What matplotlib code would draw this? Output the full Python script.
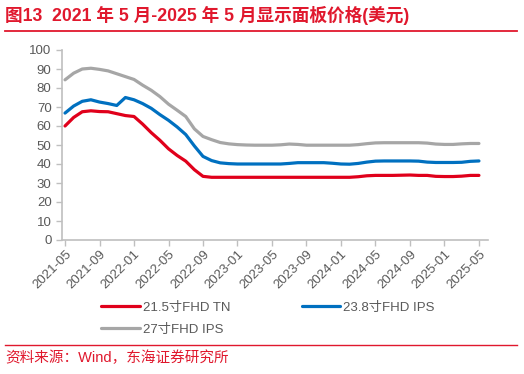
import matplotlib
matplotlib.use("Agg")
import matplotlib.pyplot as plt

# ---- data ----
months = [f"{y}-{m:02d}" for y in range(2021, 2026) for m in range(1, 13)]
months = months[months.index("2021-05"):months.index("2025-05") + 1]

tn_215 = [60, 64.5, 67.5, 68, 67.6, 67.5, 66.5, 65.5, 65, 61,
          56.5, 52.5, 48, 44.5, 41.5, 37, 33.5, 33, 33, 33,
          33, 33, 33, 33, 33, 33, 33, 33, 33, 33,
          33, 33, 33, 33, 33.3, 33.8, 34, 34, 34, 34.1,
          34.2, 34, 34, 33.5, 33.4, 33.4, 33.6, 34, 34]
ips_238 = [66.8, 70.5, 73, 73.8, 72.6, 71.8, 70.8, 75, 73.8, 71.8,
           69.3, 66, 63, 59.5, 55.5, 49.5, 44, 41.8, 40.6, 40.2,
           40, 40, 40, 40, 40, 40, 40.3, 40.7, 40.7, 40.7,
           40.7, 40.4, 40, 39.9, 40.3, 41, 41.5, 41.6, 41.6, 41.6,
           41.6, 41.5, 41, 40.8, 40.8, 40.8, 40.9, 41.4, 41.6]
ips_27 = [84.3, 87.8, 90, 90.4, 89.8, 89, 87.5, 86, 84.5, 81.5,
          78.8, 75.5, 71.5, 68.3, 65, 58.5, 54.5, 52.8, 51.3, 50.6,
          50.2, 50, 49.9, 49.9, 49.9, 50.1, 50.5, 50.3, 49.9, 49.9,
          49.9, 49.9, 49.9, 49.9, 50.2, 50.7, 51.1, 51.2, 51.2, 51.2,
          51.2, 51.2, 51, 50.5, 50.3, 50.3, 50.6, 50.8, 50.8]

series_names = ["21.5寸FHD TN", "23.8寸FHD IPS", "27寸FHD IPS"]
series_colors = ["#E0001B", "#0070C0", "#A6A6A6"]
yticks = [0, 10, 20, 30, 40, 50, 60, 70, 80, 90, 100]

title = "图13  2021 年 5 月-2025 年 5 月显示面板价格(美元)"
source = "资料来源：Wind，东海证券研究所"

# ---- style ----
plt.rcParams['font.family'] = ['Liberation Sans', 'Noto Sans CJK SC', 'DejaVu Sans']
red = "#E0182D"
axis_gray = "#BFBFBF"
text_gray = "#595959"

fig = plt.figure(figsize=(5.24, 3.74), dpi=100)
ax = fig.add_axes([62 / 524, 1 - 240 / 374, (488 - 62) / 524, 190 / 374])

x = list(range(len(months)))
lines = []
for vals, name, col in zip([tn_215, ips_238, ips_27], series_names, series_colors):
    ln, = ax.plot(x, vals, color=col, lw=2.3, label=name, solid_capstyle='round')
    lines.append(ln)

ax.set_ylim(0, 100)
ax.set_xlim(-0.35, 49.05)
ax.set_yticks(yticks)
tick_pos = list(range(0, len(months), 4))
ax.set_xticks(tick_pos)
ax.set_xticklabels([months[i] for i in tick_pos], rotation=45, ha='right',
                   rotation_mode='anchor')

for s in ['top', 'right']:
    ax.spines[s].set_visible(False)
for s in ['left', 'bottom']:
    ax.spines[s].set_color(axis_gray)
    ax.spines[s].set_linewidth(1.2)
ax.tick_params(axis='both', colors=axis_gray, length=4, width=1, labelcolor=text_gray,
               labelsize=9.5)
ax.tick_params(axis='x', pad=2)

# legend (row-major order: red, blue / gray)
order = [0, 2, 1]
leg = fig.legend(handles=[lines[i] for i in order],
                 labels=[series_names[i] for i in order], ncol=2, loc='upper left',
                 bbox_to_anchor=(96 / 524, 1 - 296 / 374), frameon=False,
                 fontsize=9.5, handlelength=2.9, handletextpad=0.25,
                 columnspacing=5.4, labelspacing=0.75, borderaxespad=0)
for t in leg.get_texts():
    t.set_color(text_gray)

# title & source
fig.text(5 / 524, 1 - 15 / 374, title, color=red, fontsize=12.7, fontweight='bold',
         va='center', ha='left')
fig.add_artist(plt.Line2D([5 / 524, 517 / 524], [1 - 31 / 374, 1 - 31 / 374],
                          color=red, lw=1.3))
fig.add_artist(plt.Line2D([5 / 524, 517 / 524], [1 - 345 / 374, 1 - 345 / 374],
                          color=red, lw=1.0))
fig.text(5 / 524, 1 - 358 / 374, source, color=red, fontsize=10.5,
         va='center', ha='left')

fig.savefig("out.png", dpi=100)
